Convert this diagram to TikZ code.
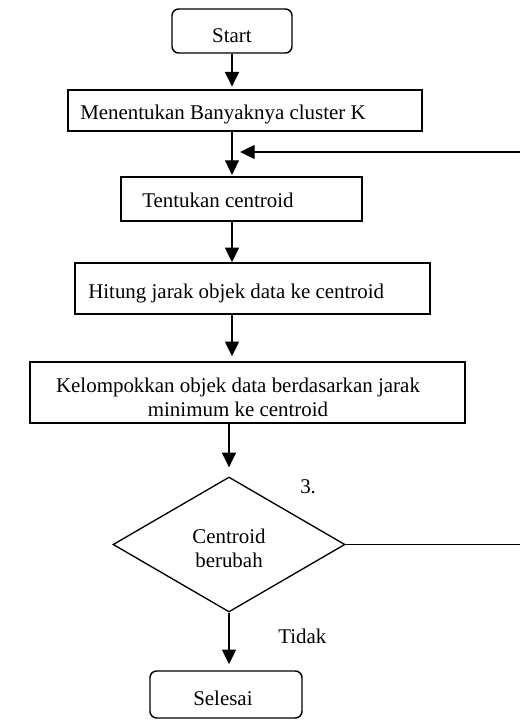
\documentclass[tikz,border=0pt]{standalone}
\usepackage{fontspec}
\setmainfont{Liberation Serif}
\usetikzlibrary{shapes.geometric,arrows.meta}

\tikzset{
    stepbox/.style={draw, line width=1.1pt, inner sep=0pt},
    endbox/.style={stepbox, rounded corners=5pt},
    decbox/.style={draw, diamond, line width=1pt, inner sep=0pt},
    txt/.style={inner sep=0pt, anchor=base west},
    arr/.style={line width=1pt, -{Triangle[width=10.5pt,length=11pt]}}
}

\begin{document}
\begin{tikzpicture}[x=0.75pt, y=-0.75pt, every node/.style={font=\fontsize{15.7}{18}\selectfont}]
        \useasboundingbox (0, 0) rectangle (519, 720);

        % kotak
        \node[endbox, minimum width=90pt, minimum height=33pt] (start) at (232, 31) {};
        \node[stepbox, minimum width=265.5pt, minimum height=30.75pt] (ban) at (245, 110.5) {};
        \node[stepbox, minimum width=180.75pt, minimum height=33pt] (cen) at (241.5, 199) {};
        \node[stepbox, minimum width=266.25pt, minimum height=38.25pt] (jar) at (252.5, 288.5) {};
        \node[stepbox, minimum width=326.25pt, minimum height=45.75pt] (kel) at (247.5, 392.5) {};
        \node[decbox, minimum width=174pt, minimum height=101.25pt] (dec) at (229, 544.5) {};
        \node[endbox, minimum width=114pt, minimum height=35.25pt] (sel) at (226, 694.5) {};

        % teks
        \node[txt, anchor=base] (start-t) at (232, 43) {Start};
        \node[txt] (ban-t) at (80, 120) {Menentukan Banyaknya cluster K};
        \node[txt] (cen-t) at (142, 208) {Tentukan centroid};
        \node[txt] (jar-t) at (88, 298) {Hitung jarak objek data ke centroid};
        \node[inner sep=0pt, align=center] (kel-t) at (238, 397) {Kelompokkan objek data berdasarkan jarak\\minimum ke centroid};
        \node[inner sep=0pt, align=center] (dec-t) at (229, 548) {Centroid\\berubah};
        \node[txt] (nomor) at (300, 493) {3.};
        \node[txt] (tidak) at (278, 643) {Tidak};
        \node[txt] (sel-t) at (193, 705) {Selesai};

        % panah
        \draw[arr, shorten >=2pt] (start.south) -- (start.south |- ban.north);
        \draw[arr, shorten >=1pt] (ban.south -| start) -- (cen.north -| start);
        \draw[arr] (cen.south -| start) -- (jar.north -| start);
        \draw[arr, shorten >=3.75pt] (jar.south -| start) -- (kel.north -| start);
        \draw[arr, shorten >=6.75pt] (kel.south -| dec) -- (dec.north);
        \draw[arr, shorten >=4.5pt] (dec.south) -- (sel.north -| dec);

        \coordinate (balik) at (240, 152);
        \draw[arr] (dec.east) -- ++(183, 0) |- (balik);
    \end{tikzpicture}
\end{document}
